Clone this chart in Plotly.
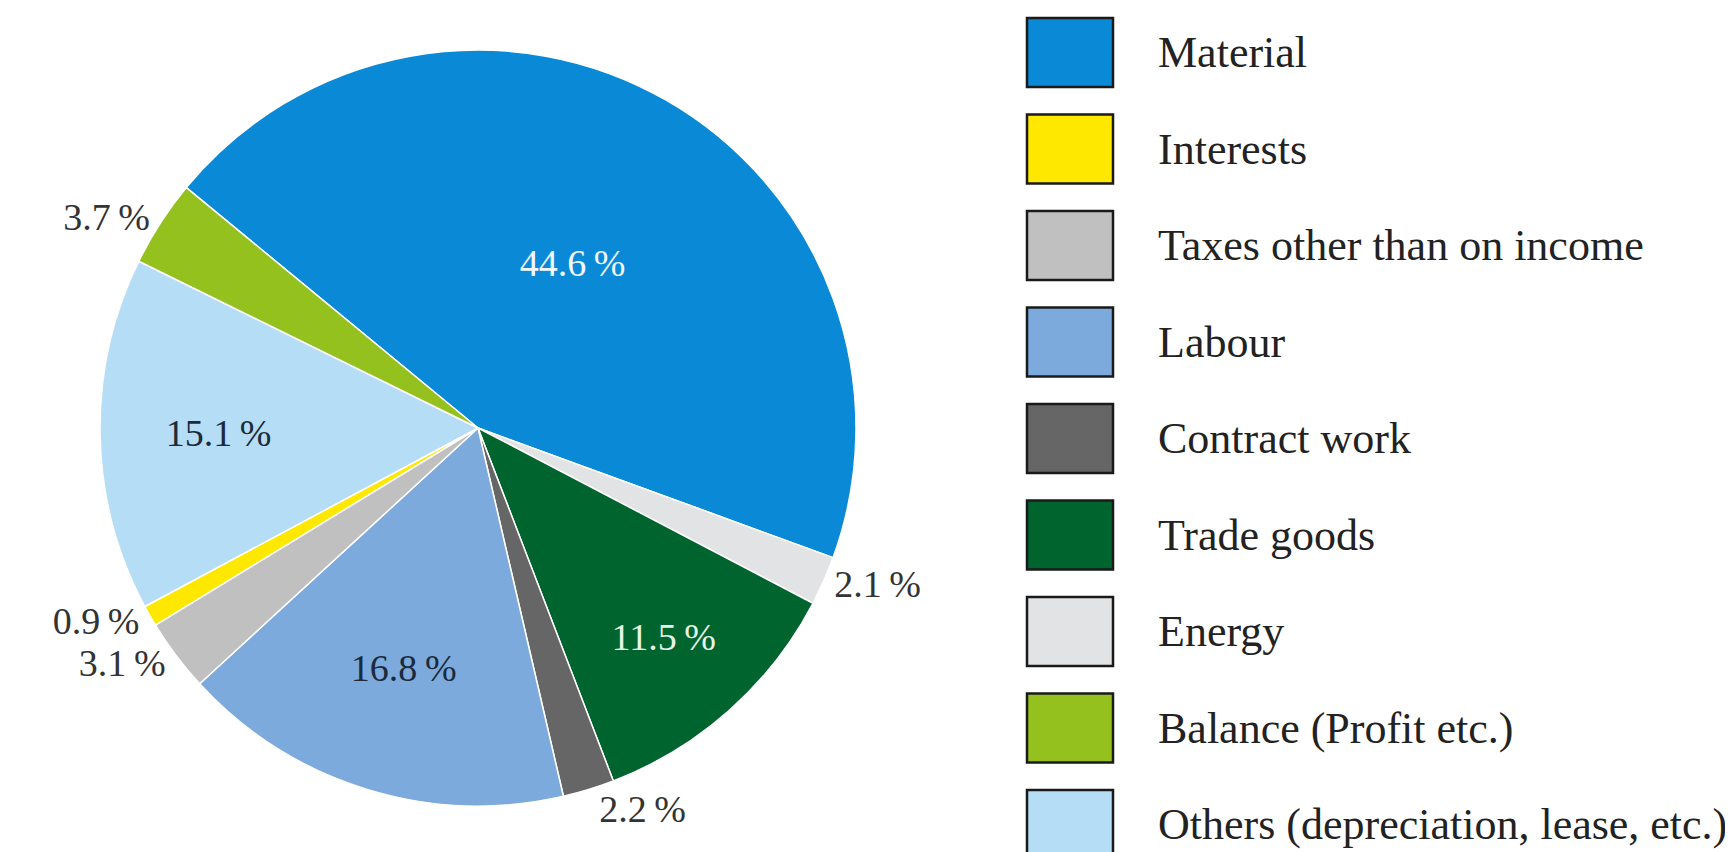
import plotly.graph_objects as go

# Legend order (as shown in the reference legend)
categories = ["Material", "Interests", "Taxes other than on income", "Labour",
              "Contract work", "Trade goods", "Energy", "Balance (Profit etc.)",
              "Others (depreciation, lease, etc.)"]
shares = [44.6, 0.9, 3.1, 16.8, 2.2, 11.5, 2.1, 3.7, 15.1]
colors = ["#0A8AD6", "#FFE800", "#C0C0C0", "#7DAADC", "#666666",
          "#00642F", "#E2E3E5", "#95C11F", "#B5DDF5"]

# Clockwise order of slices in the pie, starting at upper left
pie_order = ["Material", "Energy", "Trade goods", "Contract work", "Labour",
             "Taxes other than on income", "Interests",
             "Others (depreciation, lease, etc.)", "Balance (Profit etc.)"]
inside_labels = {"Material": "#F2F8FF", "Trade goods": "#E6F5E6",
                 "Labour": "#1B2B3C", "Others (depreciation, lease, etc.)": "#1B2B3C"}

FONT = "Liberation Serif"

idx = [categories.index(c) for c in pie_order]
p_vals = [shares[i] for i in idx]
p_cols = [colors[i] for i in idx]
p_text = [f"{shares[i]:.1f}\u2009%" for i in idx]
p_pos = ["inside" if c in inside_labels else "outside" for c in pie_order]
p_tcol = [inside_labels.get(c, "#333333") for c in pie_order]

fig = go.Figure()
fig.add_trace(go.Pie(
    labels=pie_order, values=p_vals, sort=False, direction="clockwise",
    rotation=-50.5,
    marker=dict(colors=p_cols, line=dict(color="white", width=1.5)),
    text=p_text, textinfo="text", textposition=p_pos,
    insidetextorientation="horizontal",
    textfont=dict(family=FONT, size=38, color=p_tcol),
    showlegend=False, hoverinfo="label+percent",
    domain=dict(x=[92 / 1733, 848 / 1733], y=[1 - 798 / 852, 1 - 42 / 852]),
))

# Manual legend built from the category / colour lists
shapes = []
annotations = []
top0, step, bh = 10, 96.5, 69
for k, (name, col) in enumerate(zip(categories, colors)):
    y0 = top0 + k * step
    shapes.append(dict(type="rect", xref="paper", yref="paper",
                       x0=1019 / 1733, x1=1105 / 1733,
                       y0=1 - (y0 + bh) / 852, y1=1 - y0 / 852,
                       fillcolor=col, line=dict(color="#1A1A1A", width=2.5)))
    annotations.append(dict(xref="paper", yref="paper", x=1148 / 1733,
                            y=1 - (y0 + bh / 2) / 852, xanchor="left", yanchor="middle",
                            text=name, showarrow=False,
                            font=dict(family=FONT, size=44, color="#222222")))

fig.update_layout(
    width=1733, height=852,
    margin=dict(l=0, r=0, t=0, b=0),
    paper_bgcolor="white", plot_bgcolor="white",
    shapes=shapes, annotations=annotations,
)
fig.write_html("out.html")
